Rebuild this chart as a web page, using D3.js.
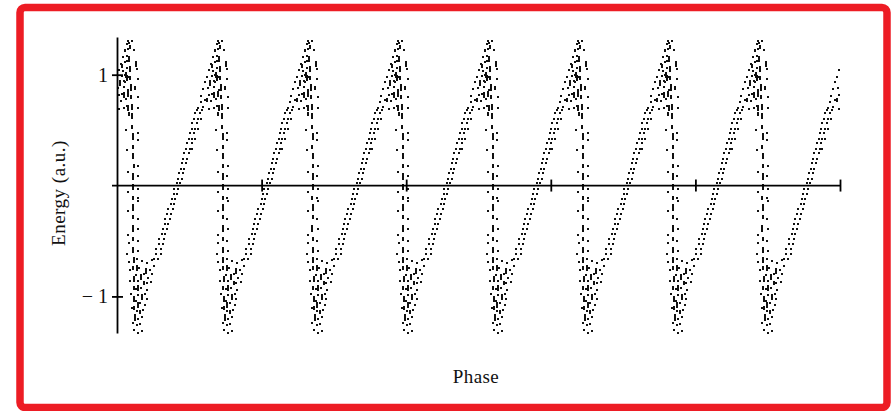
<!DOCTYPE html>
<html>
<head>
<meta charset="utf-8">
<script src="https://cdn.jsdelivr.net/npm/d3@7"></script>
<style>
  html, body { margin: 0; padding: 0; background: #fff; }
  svg { display: block; }
  text { font-family: "Liberation Serif", "Times New Roman", serif; fill: #111; }
</style>
</head>
<body>
<svg id="chart" width="891" height="411"></svg>
<script>
// Phase axis ticks (unlabelled) and energy ticks
const phaseTicks = [1, 2, 3, 4, 5];
const energyTicks = [-1, 1];
const energyTickLabels = ["\u2212 1", "1"];

// Phase at which each steep drop crosses zero energy, and the sawtooth period
const dropPhases = [-0.512, 0.111, 0.733, 1.355, 1.978, 2.600, 3.223, 3.845, 4.467];
const period = 0.6224;

// One period of the scatter, as [fraction of period after the drop, energy]
// Short vertical runs of points: [fraction, energy top, energy bottom]
const runPoints = [
  [-0.035, 1.27, 1.23], [-0.04, 1.17, 1.12], [-0.03, 1.08, 1.03], [-0.035, 0.99, 0.95],
  [-0.02, 0.92, 0.86], [-0.025, 0.82, 0.78], [-0.015, 0.74, 0.69], [-0.01, 0.65, 0.6],
  [-0.01, 0.55, 0.51], [0.0, 0.47, 0.41], [-0.005, 0.37, 0.33], [0.0, 0.29, 0.24],
  [0.005, 0.19, 0.15], [0.0, 0.11, 0.05], [0.0, 0.01, -0.04], [-0.005, -0.09, -0.13],
  [0.0, -0.17, -0.23], [0.0, -0.27, -0.31], [-0.005, -0.36, -0.42], [0.0, -0.46, -0.5],
  [0.0, -0.55, -0.6], [0.005, -0.64, -0.69], [0.0, -0.73, -0.77], [0.01, -0.82, -0.87],
  [0.005, -0.91, -0.95], [0.015, -1.0, -1.05], [0.01, -1.09, -1.13], [0.02, -1.17, -1.22],
  [-0.075, 1.02, 0.97], [0.03, 1.12, 1.07], [-0.06, 0.85, 0.8], [0.025, 0.9, 0.86],
  [-0.05, 0.66, 0.62],
  [0.045, -0.72, -0.77], [0.09, -0.8, -0.85], [0.06, -0.9, -0.95], [0.12, -0.86, -0.9],
  [0.1, -0.98, -1.03], [0.05, -1.05, -1.1], [0.08, -1.12, -1.16], [0.14, -0.74, -0.79],
  [0.86, 0.95, 0.9], [0.9, 0.84, 0.79], [0.93, 1.0, 0.95], [0.82, 0.79, 0.75],
  [0.95, 0.73, 0.68], [0.88, 1.1, 1.06]
];

// Scattered points beside the drop
const dropPoints = [
  [-0.055, 1.3], [-0.01, 1.3], [-0.085, 1.21], [0.015, 1.22], [-0.07, 1.12], [0.045, 1.05],
  [-0.09, 0.93], [0.05, 0.96], [-0.07, 0.72], [0.06, 0.8], [0.055, 0.7], [-0.075, 0.5],
  [0.05, 0.47], [-0.065, 0.32], [0.05, 0.41], [-0.06, 0.12], [0.055, 0.18], [0.05, 0.09],
  [0.06, -0.03], [-0.06, -0.06], [0.05, -0.11], [0.055, -0.14], [-0.055, -0.23], [0.05, -0.3],
  [0.055, -0.39], [-0.055, -0.45], [0.05, -0.5], [-0.05, -0.52], [0.06, -0.59], [-0.065, -0.62]
];

// Points gathered at the bottom of each drop
const troughPoints = [
  [-0.05, -0.69], [0.04, -0.66], [0.1, -0.68], [0.16, -0.7], [0.21, -0.67],
  [-0.035, -0.76], [0.07, -0.74], [0.19, -0.76], [0.23, -0.73],
  [0.03, -0.81], [0.12, -0.8], [0.17, -0.83], [0.21, -0.8],
  [-0.03, -0.86], [0.06, -0.86], [0.15, -0.88], [0.2, -0.87],
  [0.035, -0.93], [0.09, -0.92], [0.16, -0.94],
  [-0.02, -0.98], [0.06, -0.99], [0.13, -0.98], [0.15, -1.02],
  [0.035, -1.04], [0.08, -1.06], [0.13, -1.08],
  [-0.015, -1.1], [0.04, -1.13], [0.11, -1.12],
  [0.02, -1.17], [0.06, -1.2], [0.1, -1.19],
  [-0.005, -1.24], [0.045, -1.26], [0.08, -1.25],
  [0.015, -1.3], [0.055, -1.33], [0.1, -1.31]
];

// Points along the slow rise
const risePoints = [
  [0.23, -0.66], [0.28, -0.66], [0.26, -0.62], [0.31, -0.62], [0.26, -0.57], [0.31, -0.57],
  [0.29, -0.53], [0.33, -0.53], [0.29, -0.48], [0.34, -0.48], [0.32, -0.44], [0.36, -0.44],
  [0.33, -0.39], [0.38, -0.39], [0.35, -0.35], [0.39, -0.35], [0.36, -0.3], [0.41, -0.3],
  [0.38, -0.26], [0.42, -0.26], [0.39, -0.21], [0.44, -0.21], [0.42, -0.17], [0.46, -0.17],
  [0.43, -0.12], [0.47, -0.12], [0.45, -0.08], [0.49, -0.08], [0.46, -0.03], [0.5, -0.03],
  [0.49, 0.02], [0.52, 0.02], [0.5, 0.06], [0.54, 0.06], [0.51, 0.11], [0.56, 0.11],
  [0.53, 0.15], [0.57, 0.15], [0.54, 0.2], [0.59, 0.2], [0.56, 0.24], [0.6, 0.24],
  [0.57, 0.29], [0.62, 0.29], [0.59, 0.33], [0.63, 0.33], [0.66, 0.33], [0.6, 0.38],
  [0.65, 0.38], [0.62, 0.42], [0.66, 0.42], [0.69, 0.42], [0.63, 0.47], [0.68, 0.47],
  [0.65, 0.51], [0.69, 0.51], [0.72, 0.51], [0.66, 0.56], [0.71, 0.56], [0.68, 0.6],
  [0.72, 0.6], [0.76, 0.6], [0.69, 0.65], [0.74, 0.65], [0.71, 0.68], [0.77, 0.68]
];

// Points gathered near each peak
const peakPoints = [
  [0.72, 0.7], [0.78, 0.71], [0.84, 0.69], [0.9, 0.7], [0.95, 0.72],
  [0.75, 0.75], [0.8, 0.77], [0.87, 0.76], [0.92, 0.78],
  [0.76, 0.81], [0.84, 0.82], [0.88, 0.83], [0.94, 0.81],
  [0.78, 0.87], [0.83, 0.88], [0.9, 0.89], [0.95, 0.86],
  [0.8, 0.93], [0.86, 0.92], [0.9, 0.94],
  [0.82, 0.98], [0.88, 0.99], [0.91, 1.0], [0.95, 0.98],
  [0.84, 1.04], [0.89, 1.03], [0.93, 1.06],
  [0.87, 1.1], [0.91, 1.11], [0.95, 1.12],
  [0.89, 1.16], [0.93, 1.17], [0.96, 1.15],
  [0.91, 1.22], [0.94, 1.23],
  [0.93, 1.28], [0.96, 1.29]
];

const svg = d3.select("#chart");

// Frame
svg.append("rect")
  .attr("x", 20).attr("y", 7.5)
  .attr("width", 867).attr("height", 400)
  .attr("rx", 5)
  .attr("fill", "#fff")
  .attr("stroke", "#ed1c24")
  .attr("stroke-width", 7.5);

const x = d3.scaleLinear().domain([0, 5]).range([117, 840]);
const y = d3.scaleLinear().domain([-1.33, 1.34]).range([333, 37]);

const phaseOf = (drop, f) => drop + f * period;
const inside = p => p >= 0 && p <= 5;

const singles = [...dropPoints, ...troughPoints, ...risePoints, ...peakPoints];
const dots = [];
const runs = [];
dropPhases.forEach(d => {
  singles.forEach(([f, e]) => {
    const p = phaseOf(d, f);
    if (inside(p)) dots.push({ p, e });
  });
  runPoints.forEach(([f, e1, e2]) => {
    const p = phaseOf(d, f);
    if (inside(p)) runs.push({ p, e1, e2 });
  });
});

const plot = svg.append("g").attr("shape-rendering", "crispEdges");
plot.selectAll("rect.dot").data(dots).join("rect")
  .attr("class", "dot")
  .attr("x", d => Math.round(x(d.p)) - 1)
  .attr("y", d => Math.round(y(d.e)) - 1)
  .attr("width", 2).attr("height", 2)
  .attr("fill", "#111");

plot.selectAll("rect.run").data(runs).join("rect")
  .attr("class", "run")
  .attr("x", d => Math.round(x(d.p)) - 1)
  .attr("y", d => Math.round(y(d.e1)))
  .attr("width", 2)
  .attr("height", d => Math.max(2, Math.round(y(d.e2) - y(d.e1))))
  .attr("fill", "#111");

// Energy axis with crossing tick marks
const yAxis = svg.append("g")
  .attr("transform", `translate(${x(0)},0)`)
  .call(d3.axisLeft(y)
    .tickValues(energyTicks)
    .tickFormat((d, i) => energyTickLabels[i])
    .tickSizeInner(5).tickSizeOuter(0).tickPadding(4));
yAxis.select(".domain").attr("stroke", "#000").attr("stroke-width", 1.8);
yAxis.selectAll(".tick line").attr("x1", -5).attr("x2", 6)
  .attr("stroke", "#000").attr("stroke-width", 1.8);
yAxis.selectAll(".tick text")
  .attr("font-family", "Liberation Serif, Times New Roman, serif")
  .attr("font-size", 20).attr("fill", "#111");

// Phase axis drawn along zero energy
const xAxis = svg.append("g")
  .attr("transform", `translate(0,${y(0)})`)
  .call(d3.axisBottom(x)
    .tickValues(phaseTicks)
    .tickFormat("")
    .tickSizeInner(6).tickSizeOuter(0));
xAxis.select(".domain")
  .attr("d", `M${x(0) - 5},0H${x(5)}`)
  .attr("stroke", "#000").attr("stroke-width", 1.8);
xAxis.selectAll(".tick line").attr("y1", -6).attr("y2", 6)
  .attr("stroke", "#000").attr("stroke-width", 1.8);

// Axis titles
svg.append("text")
  .attr("x", 476).attr("y", 383)
  .attr("text-anchor", "middle")
  .attr("font-size", 19)
  .attr("letter-spacing", 0.4)
  .text("Phase");

svg.append("text")
  .attr("transform", "translate(65,193) rotate(-90)")
  .attr("text-anchor", "middle")
  .attr("font-size", 19)
  .attr("letter-spacing", 0.5)
  .text("Energy (a.u.)");
</script>
</body>
</html>
